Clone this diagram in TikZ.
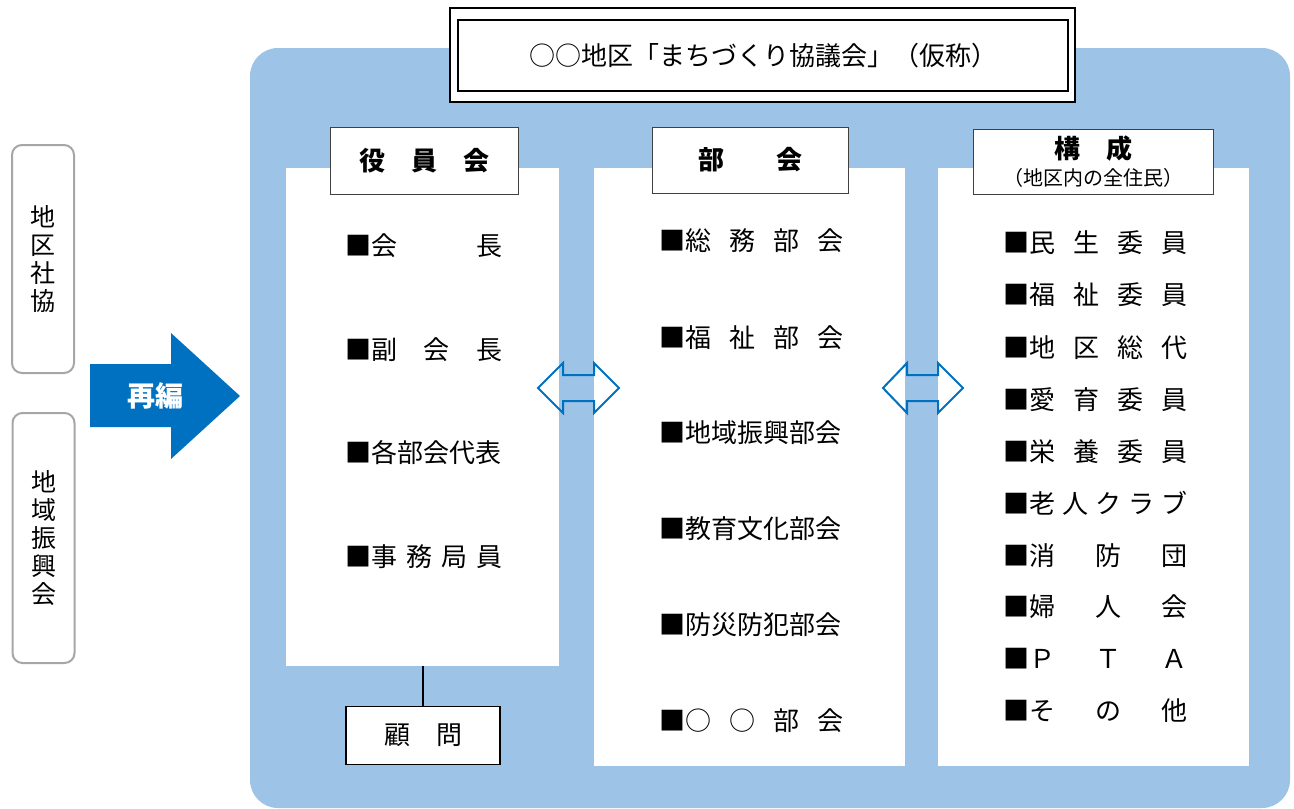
\documentclass[tikz,border=0pt]{standalone}
\usepackage{fontspec}
\setmainfont{Noto Sans CJK JP}
\definecolor{bgblue}{HTML}{9DC3E6}
\definecolor{arrblue}{HTML}{0070C0}
\definecolor{boxgray}{HTML}{A6A6A6}
\newcommand\itmbox[2]{\hbox to #1pt{#2}}
\begin{document}
\begin{tikzpicture}[x=1pt,y=-1pt,
  panel/.style={fill=white, draw=none, minimum width=#1, inner sep=0pt},
  hdr/.style={fill=white, draw=black!75, line width=0.9pt, inner sep=0pt, align=center},
  itm/.style={anchor=west, inner sep=0pt, font=\fontsize{26}{30}\selectfont},
  sidebox/.style={draw=boxgray, line width=2pt, rounded corners=10pt, fill=white, minimum width=62, inner sep=0pt, align=center, font=\fontsize{25}{28}\selectfont},
  dblarrow/.style={draw=arrblue, line width=2pt, line join=miter}
]
\useasboundingbox (0,0) rectangle (1294,809);
% blue background
\node[fill=bgblue, rounded corners=28pt, minimum width=1040, minimum height=760, inner sep=0pt] (bg) at (770,428) {};
% title
\node[draw=black, line width=2pt, fill=white, minimum width=625, minimum height=94, inner sep=0pt] (tout) at (762.5,55) {};
\node[draw=black, line width=2.5pt, fill=white, minimum width=610, minimum height=71, inner sep=0pt, font=\fontsize{26}{30}\selectfont] (title) at (763,55.5) {○○地区「まちづくり協議会」（仮称）};
% panels
\node[panel=273, minimum height=498] (p1) at (422.5,417) {};
\node[panel=311, minimum height=598] (p2) at (749.5,467) {};
\node[panel=311, minimum height=598] (p3) at (1093.5,467) {};
% headers
\node[hdr, minimum width=188, minimum height=67, font=\fontsize{26}{30}\selectfont\bfseries] (h1) at (424,160.5) {役　員　会};
\node[hdr, minimum width=196, minimum height=66, font=\fontsize{26}{30}\selectfont\bfseries] (h2) at (750,160) {部　　会};
\node[hdr, minimum width=240, minimum height=65, font=\fontsize{26}{30}\selectfont] (h3) at (1093,161.5) {\textbf{構　成}\\[-3pt]{\fontsize{20}{22}\selectfont （地区内の全住民）}};
% advisor
\node[draw=black, line width=1.2pt, fill=white, minimum width=154, minimum height=58, inner sep=0pt, font=\fontsize{26}{30}\selectfont] (gm) at (423,735.5) {顧　問};
\draw[line width=1.2pt] (gm.north) -- (gm.north |- p1.south);
% left items
\node[itm] (l1) at (345,246) {\itmbox{157}{■会\hfill 長}};
\node[itm] (l2) at (345,350) {\itmbox{157}{■副\hfil 会\hfil 長}};
\node[itm] (l3) at (345,453) {\itmbox{157}{■各部会代表}};
\node[itm] (l4) at (345,557) {\itmbox{157}{■事\hfil 務\hfil 局\hfil 員}};
% middle items
\node[itm] (m1) at (659,241) {\itmbox{184}{■総\hfil 務\hfil 部\hfil 会}};
\node[itm] (m2) at (659,338) {\itmbox{184}{■福\hfil 祉\hfil 部\hfil 会}};
\node[itm] (m3) at (659,433) {\itmbox{184}{■地域振興部会}};
\node[itm] (m4) at (659,529) {\itmbox{184}{■教育文化部会}};
\node[itm] (m5) at (659,625) {\itmbox{184}{■防災防犯部会}};
\node[itm] (m6) at (659,721) {\itmbox{184}{■○\hfil ○\hfil 部\hfil 会}};
% right items
\node[itm] (r1) at (1003,243) {\itmbox{184}{■民\hfil 生\hfil 委\hfil 員}};
\node[itm] (r2) at (1003,295) {\itmbox{184}{■福\hfil 祉\hfil 委\hfil 員}};
\node[itm] (r3) at (1003,348) {\itmbox{184}{■地\hfil 区\hfil 総\hfil 代}};
\node[itm] (r4) at (1003,400) {\itmbox{184}{■愛\hfil 育\hfil 委\hfil 員}};
\node[itm] (r5) at (1003,452) {\itmbox{184}{■栄\hfil 養\hfil 委\hfil 員}};
\node[itm] (r6) at (1003,503) {\itmbox{184}{■老\hfil 人\hfil ク\hfil ラ\hfil ブ}};
\node[itm] (r7) at (1003,556) {\itmbox{184}{■消\hfil 防\hfil 団}};
\node[itm] (r8) at (1003,607) {\itmbox{184}{■婦\hfil 人\hfil 会}};
\node[itm] (r9) at (1003,659) {\itmbox{184}{■Ｐ\hfil Ｔ\hfil Ａ}};
\node[itm] (r10) at (1003,711) {\itmbox{184}{■そ\hfil の\hfil 他}};
% left side boxes
\node[sidebox, minimum height=228] (s1) at (43,259) {地\\区\\社\\協};
\node[sidebox, minimum height=250] (s2) at (43.5,538) {地\\域\\振\\興\\会};
% big arrow
\fill[arrblue] (90,364) -- (171,364) -- (171,333) -- (240,396) -- (171,459) -- (171,427) -- (90,427) -- cycle;
\node[text=white, font=\fontsize{28}{30}\selectfont\bfseries, inner sep=0pt] (re) at (155,396) {再編};
% double arrows
\draw[dblarrow] (538,388) -- (563,363) -- (563,375) -- (594,375) -- (594,363) -- (619,388) -- (594,413) -- (594,401) -- (563,401) -- (563,413) -- cycle;
\draw[dblarrow] (883,388) -- (907,363) -- (907,375) -- (938,375) -- (938,363) -- (963,388) -- (938,413) -- (938,401) -- (907,401) -- (907,413) -- cycle;
\end{tikzpicture}
\end{document}
